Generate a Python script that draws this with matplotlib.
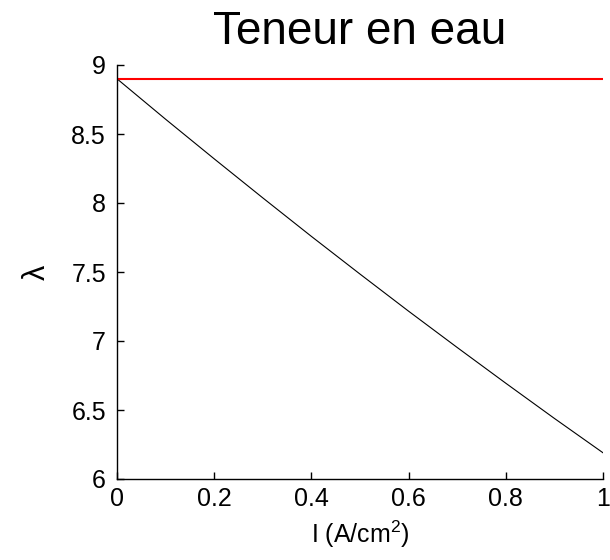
import matplotlib
matplotlib.use('Agg')
import matplotlib.pyplot as plt
from matplotlib.ticker import FuncFormatter

# water content (lambda) vs current density
current = [0.0, 0.1, 0.2, 0.3, 0.4, 0.5, 0.6, 0.7, 0.8, 0.9, 1.0]
lam = [8.900, 8.607, 8.320, 8.037, 7.758, 7.485, 7.216, 6.953, 6.694, 6.439, 6.190]
lam_ref = 8.9

xticks = [0, 0.2, 0.4, 0.6, 0.8, 1]
yticks = [6, 6.5, 7, 7.5, 8, 8.5, 9]

plt.rcParams['font.family'] = ['Liberation Sans', 'DejaVu Sans']
plt.rcParams['mathtext.default'] = 'regular'

fig = plt.figure(figsize=(6.1, 5.6), dpi=100)
ax = fig.add_axes([117/610, 1 - 479/560, 486/610, 414/560])

ax.plot(current, lam, color='k', lw=0.8)
ax.plot([current[0], current[-1]], [lam_ref, lam_ref], color='#ff0000', lw=1.5)

ax.set_xlim(0, 1)
ax.set_ylim(6, 9)
ax.set_xticks(xticks)
ax.set_yticks(yticks)
ax.xaxis.set_major_formatter(FuncFormatter(lambda v, p: '%g' % v))
ax.yaxis.set_major_formatter(FuncFormatter(lambda v, p: '%g' % v))

# matlab-ish "box off" look
ax.spines['top'].set_visible(False)
ax.spines['right'].set_visible(False)
for s in ['left', 'bottom']:
    ax.spines[s].set_linewidth(1.0)
ax.tick_params(axis='both', direction='in', length=5, width=1, labelsize=18)
ax.tick_params(axis='x', pad=6)
ax.tick_params(axis='y', pad=8)

ax.set_title('Teneur en eau', fontsize=33, pad=15)
ax.set_xlabel('I (A/cm$^{2}$)', fontsize=18, labelpad=5)
ax.set_ylabel('λ', fontsize=22, labelpad=14)

fig.savefig('out.png', dpi=100)
